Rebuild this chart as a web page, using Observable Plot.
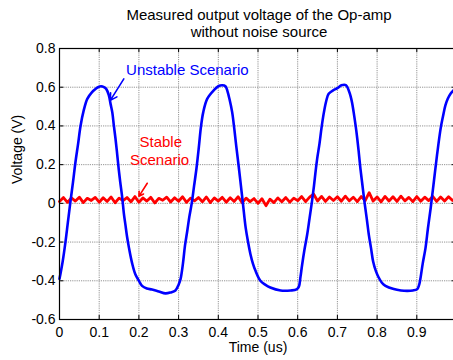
<!DOCTYPE html>
<html><head><meta charset="utf-8">
<script src="https://cdn.jsdelivr.net/npm/d3@7"></script>
<script src="https://cdn.jsdelivr.net/npm/@observablehq/plot@0.6"></script>
<style>
html,body{margin:0;padding:0;background:#fff;overflow:hidden;width:453px;height:360px}
#title{font-family:"Liberation Sans",Arial,sans-serif;font-size:15px;line-height:17px;text-align:center;padding-left:65px;padding-top:6px;height:36px;color:#000;box-sizing:content-box}
#chart svg{display:block}
</style></head><body>
<div id="title">Measured output voltage of the Op-amp<br>without noise source</div>
<div id="chart"></div>
<script>
// Unstable scenario (blue): time (us) and voltage (V)
const unstableTime = [0.000,0.008,0.015,0.021,0.027,0.034,0.040,0.047,0.053,0.061,0.070,0.082,0.090,0.097,0.105,0.112,0.118,0.124,0.129,0.133,0.137,0.141,0.145,0.149,0.153,0.158,0.162,0.166,0.170,0.175,0.183,0.191,0.200,0.208,0.220,0.233,0.250,0.267,0.280,0.292,0.300,0.305,0.311,0.316,0.322,0.327,0.333,0.339,0.345,0.351,0.356,0.362,0.372,0.389,0.400,0.410,0.418,0.423,0.428,0.435,0.440,0.445,0.452,0.457,0.462,0.469,0.475,0.481,0.487,0.494,0.506,0.518,0.531,0.557,0.582,0.597,0.603,0.607,0.611,0.617,0.624,0.630,0.636,0.641,0.645,0.649,0.655,0.660,0.666,0.672,0.678,0.690,0.700,0.710,0.722,0.729,0.733,0.737,0.741,0.746,0.750,0.754,0.758,0.763,0.768,0.774,0.779,0.785,0.790,0.797,0.804,0.812,0.821,0.842,0.860,0.876,0.890,0.901,0.906,0.909,0.915,0.922,0.928,0.935,0.943,0.951,0.960,0.966,0.972,0.978,0.985,0.992,1.000];
const unstableVolt = [-0.39,-0.30,-0.20,-0.10,0.00,0.11,0.21,0.31,0.40,0.48,0.54,0.575,0.59,0.60,0.605,0.60,0.59,0.56,0.51,0.47,0.40,0.335,0.26,0.18,0.11,0.03,-0.05,-0.11,-0.17,-0.23,-0.31,-0.366,-0.40,-0.426,-0.44,-0.445,-0.455,-0.465,-0.46,-0.45,-0.42,-0.39,-0.31,-0.22,-0.14,-0.07,0.00,0.09,0.18,0.29,0.39,0.47,0.54,0.585,0.605,0.61,0.605,0.58,0.54,0.47,0.39,0.30,0.18,0.09,0.00,-0.127,-0.20,-0.263,-0.31,-0.35,-0.40,-0.42,-0.435,-0.45,-0.45,-0.445,-0.43,-0.38,-0.32,-0.24,-0.16,-0.075,0.01,0.09,0.164,0.23,0.31,0.39,0.47,0.53,0.566,0.585,0.595,0.61,0.61,0.58,0.555,0.52,0.47,0.40,0.335,0.26,0.18,0.095,0.01,-0.08,-0.16,-0.235,-0.30,-0.35,-0.383,-0.41,-0.426,-0.443,-0.45,-0.452,-0.45,-0.443,-0.42,-0.39,-0.31,-0.23,-0.13,-0.024,0.113,0.25,0.386,0.45,0.506,0.54,0.566,0.583,0.60];

// Stable scenario (red): sampled every 0.01 us from 0 to 1
const stableVolt = [
 0.010,0.030,0.005,0.028,0.012,0.032,0.004,0.026,0.015,0.031,
 0.006,0.029,0.010,0.033,0.003,0.027,0.014,0.030,0.008,0.035,
 0.006,0.028,0.012,0.031,0.002,0.026,0.016,0.032,0.007,0.029,
 0.011,0.034,0.005,0.027,0.013,0.030,0.008,0.033,0.004,0.028,
 0.012,0.031,0.006,0.029,0.010,0.034,0.003,0.027,0.009,0.025,
 0.000,0.024,-0.012,0.022,0.004,0.028,0.008,0.030,0.006,0.027,
 0.014,0.035,0.009,0.032,0.048,0.012,0.036,0.010,0.033,0.015,
 0.034,0.011,0.037,0.013,0.032,0.009,0.035,0.014,0.055,0.012,
 0.033,0.008,0.036,0.012,0.034,0.010,0.037,0.013,0.031,0.009,
 0.035,0.011,0.032,0.014,0.036,0.010,0.033,0.012,0.034,0.015,
 0.030];
const stableTime = stableVolt.map((_, i) => i / 100);

// Axes
const xTicks = [0,0.1,0.2,0.3,0.4,0.5,0.6,0.7,0.8,0.9,1.0];
const xTickLabels = [0,0.1,0.2,0.3,0.4,0.5,0.6,0.7,0.8,0.9];
const yTicks = [-0.6,-0.4,-0.2,0,0.2,0.4,0.6,0.8];
const xDomain = [0, 1];
const yDomain = [-0.6, 0.8];

// Annotations
const annotText = ["Unstable Scenario", "Stable", "Scenario"];
const annotX = [0.322, 0.255, 0.252];
const annotY = [0.69, 0.315, 0.225];
const annotColor = ["#0000ff", "#ff0000", "#ff0000"];
const arrowX1 = [0.162, 0.221];
const arrowY1 = [0.643, 0.104];
const arrowX2 = [0.128, 0.200];
const arrowY2 = [0.532, 0.036];
const arrowColor = ["#0000ff", "#ff0000"];

const unstable = unstableTime.map((t, i) => ({t, v: unstableVolt[i]}));
const stable = stableTime.map((t, i) => ({t, v: stableVolt[i]}));
const annots = annotText.map((s, i) => ({s, x: annotX[i], y: annotY[i], c: annotColor[i]}));
const arrows = arrowX1.map((x1, i) => ({x1, y1: arrowY1[i], x2: arrowX2[i], y2: arrowY2[i], c: arrowColor[i]}));

const fmt = d => d === 0 ? "0" : String(+d.toFixed(1)).replace("\u2212", "-");
const tickLenX = 0.011; // inward tick length in x units
const tickLenY = 0.021; // inward tick length in y units

const chart = Plot.plot({
  width: 453, height: 318,
  marginLeft: 59, marginRight: -3, marginTop: 6, marginBottom: 41,
  style: {fontFamily: "'Liberation Sans', Arial, sans-serif", fontSize: "14px", background: "white", overflow: "visible", color: "black"},
  x: {domain: xDomain, axis: null},
  y: {domain: yDomain, axis: null},
  marks: [
    Plot.ruleX(xTicks.slice(1), {stroke: "#888", strokeDasharray: "1.2,1", strokeWidth: 0.9}),
    Plot.ruleY(yTicks.slice(1, -1), {stroke: "#888", strokeDasharray: "1.2,1", strokeWidth: 0.9}),
    // inward ticks
    Plot.ruleX(xTicks, {y1: yDomain[0], y2: yDomain[0] + tickLenY, stroke: "black"}),
    Plot.ruleX(xTicks, {y1: yDomain[1], y2: yDomain[1] - tickLenY, stroke: "black"}),
    Plot.ruleY(yTicks, {x1: xDomain[0], x2: xDomain[0] + tickLenX, stroke: "black"}),
    Plot.ruleY(yTicks, {x1: xDomain[1], x2: xDomain[1] - tickLenX, stroke: "black"}),
    Plot.line(stable, {x: "t", y: "v", stroke: "#ff0000", strokeWidth: 2.8}),
    Plot.line(unstable, {x: "t", y: "v", stroke: "#0000ff", strokeWidth: 2.6, curve: "catmull-rom"}),
    Plot.frame({stroke: "black", strokeWidth: 1.2}),
    Plot.axisX({ticks: xTickLabels, tickSize: 0, tickPadding: 8, tickFormat: fmt, label: null, fontSize: 14}),
    Plot.axisY({ticks: yTicks, tickSize: 0, tickPadding: 4, tickFormat: fmt, label: null, fontSize: 14}),
    Plot.text(["Voltage (V)"], {frameAnchor: "left", rotate: -90, dx: -42, fontSize: 14}),
    Plot.text(["Time (us)"], {frameAnchor: "bottom", dy: 28, lineAnchor: "middle", fontSize: 14}),
    Plot.text(annots, {x: "x", y: "y", text: "s", fill: "c", fontSize: 15}),
    Plot.arrow(arrows, {x1: "x1", y1: "y1", x2: "x2", y2: "y2", stroke: "c", strokeWidth: 1.6, headLength: 7})
  ]
});
document.getElementById("chart").appendChild(chart);
</script>
</body></html>
